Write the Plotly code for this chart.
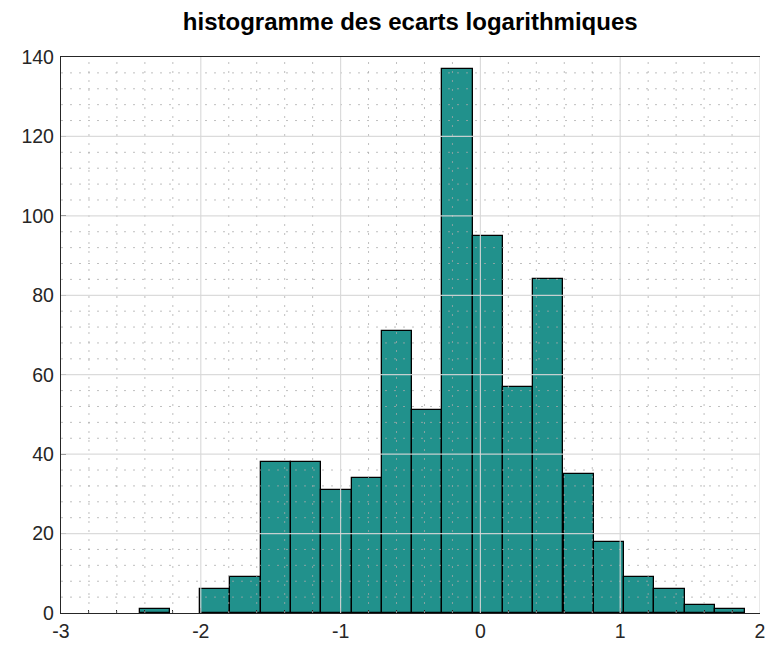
import plotly.graph_objects as go

bin_centers = [-2.330, -2.113, -1.896, -1.680, -1.463, -1.247, -1.030, -0.813, -0.597, -0.380,
               -0.164, 0.053, 0.270, 0.486, 0.703, 0.919, 1.136, 1.353, 1.569, 1.786]
counts = [1, 0, 6, 9, 38, 38, 31, 34, 71, 51, 137, 95, 57, 84, 35, 18, 9, 6, 2, 1]
bin_width = 0.2166
x_ticks = [-3, -2, -1, 0, 1, 2]
y_ticks = [0, 20, 40, 60, 80, 100, 120, 140]

x_min, x_max = -3, 2
y_min, y_max = 0, 140
x_minor_step, y_minor_step = 0.2, 4

fig = go.Figure()
fig.add_trace(go.Bar(
    x=bin_centers, y=counts, width=[bin_width] * len(counts),
    marker=dict(color="#21918c",
                line=dict(color="black", width=[1.3 if c > 0 else 0 for c in counts])),
    hoverinfo="x+y",
))

# grid lines drawn above the bars (as in the reference)
shapes = []
minor_col = "rgba(170,170,170,0.75)"
major_col = "rgba(215,215,215,0.9)"
n_xm = int(round((x_max - x_min) / x_minor_step))
for i in range(1, n_xm + 1):
    xv = x_min + i * x_minor_step
    if abs(xv - round(xv)) < 1e-6:
        continue
    shapes.append(dict(type="line", xref="x", yref="y", x0=xv, x1=xv, y0=y_min, y1=y_max,
                       layer="above", line=dict(color=minor_col, width=1, dash="2px,7px")))
n_ym = int(round((y_max - y_min) / y_minor_step))
for i in range(1, n_ym):
    yv = y_min + i * y_minor_step
    if yv % 20 == 0:
        continue
    shapes.append(dict(type="line", xref="x", yref="y", x0=x_min, x1=x_max, y0=yv, y1=yv,
                       layer="above", line=dict(color=minor_col, width=1, dash="2px,7px")))
for xv in x_ticks[1:]:
    shapes.append(dict(type="line", xref="x", yref="y", x0=xv, x1=xv, y0=y_min, y1=y_max,
                       layer="above", line=dict(color=major_col, width=1.2)))
for yv in y_ticks[1:-1]:
    shapes.append(dict(type="line", xref="x", yref="y", x0=x_min, x1=x_max, y0=yv, y1=yv,
                       layer="above", line=dict(color=major_col, width=1.2)))

font = "Liberation Sans, Arial, sans-serif"
axis_common = dict(
    showline=True, linecolor="#262626", linewidth=1.3,
    ticks="inside", ticklen=5, tickcolor="#262626",
    showgrid=False, zeroline=False, layer="above traces",
    tickfont=dict(family=font, size=19.5, color="#262626"),
)
fig.update_xaxes(range=[x_min, x_max], tickvals=x_ticks, ticktext=[str(v) for v in x_ticks],
                 mirror=True,
                 minor=dict(dtick=x_minor_step, ticks="inside", ticklen=3, tickcolor="#262626"),
                 **axis_common)
fig.update_yaxes(range=[y_min, y_max], tickvals=y_ticks, ticktext=[str(v) for v in y_ticks],
                 ticklabelstandoff=2,
                 **axis_common)
fig.update_layout(
    width=774, height=654,
    margin=dict(l=61, r=9, t=57, b=41),
    paper_bgcolor="white", plot_bgcolor="white",
    bargap=0,
    showlegend=False,
    shapes=shapes,
    title=dict(text="<b>histogramme des ecarts logarithmiques</b>", x=0.53, xanchor="center",
               y=1 - 22 / 654, yanchor="middle",
               font=dict(family=font, size=24, color="black")),
)
fig.write_html("out.html", config={"displayModeBar": False},
               post_script="document.body.style.margin='0';document.body.style.overflow='hidden';")
